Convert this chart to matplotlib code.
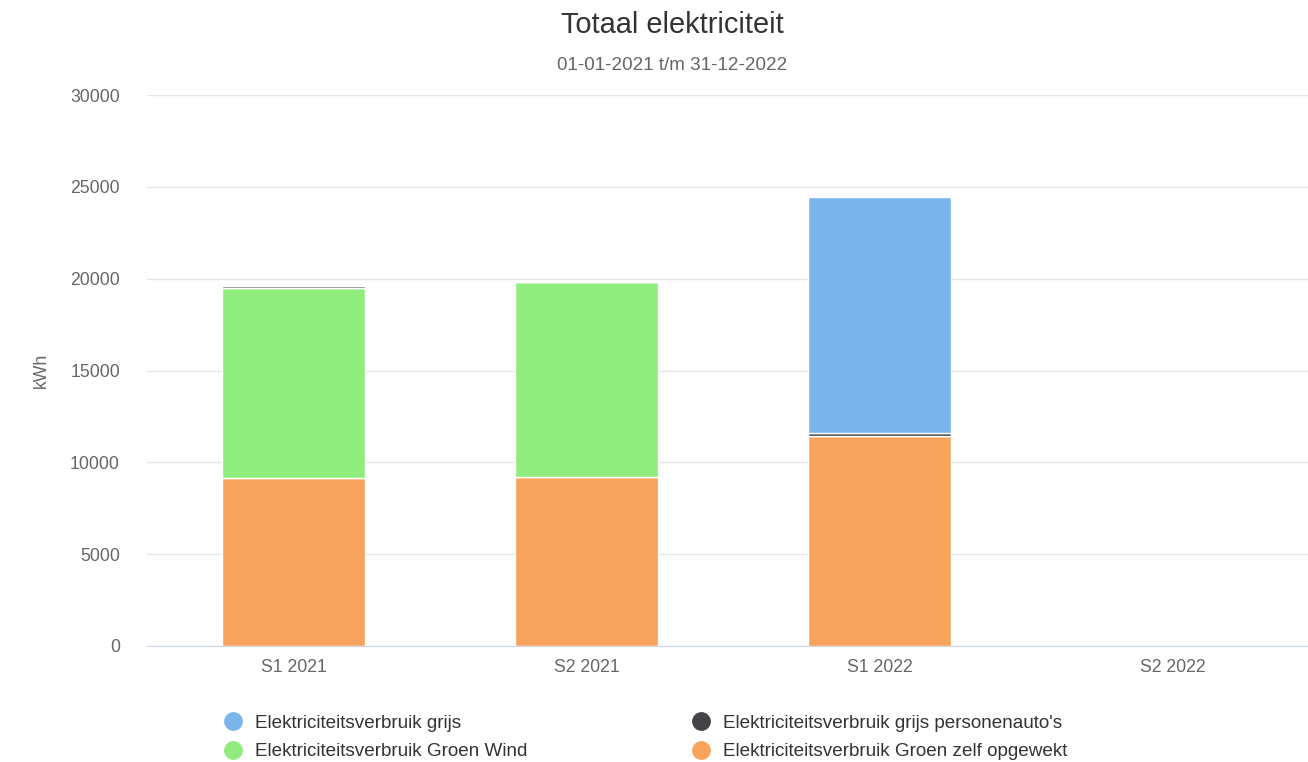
import matplotlib.pyplot as plt
from matplotlib.lines import Line2D

plt.rcParams["font.family"] = ["Liberation Sans", "DejaVu Sans"]

# semesters on the x axis
categories = ["S1 2021", "S2 2021", "S1 2022", "S2 2022"]

# kWh per series
grijs = [0, 0, 12830, 0]
grijs_auto = [140, 0, 180, 0]
groen_wind = [10340, 10580, 0, 0]
groen_zelf = [9130, 9220, 11430, 0]

series_names = [
    "Elektriciteitsverbruik grijs",
    "Elektriciteitsverbruik grijs personenauto's",
    "Elektriciteitsverbruik Groen Wind",
    "Elektriciteitsverbruik Groen zelf opgewekt",
]
colours = ["#7cb5ec", "#434348", "#90ed7d", "#f7a35c"]

fig = plt.figure(figsize=(13.08, 7.62), dpi=100)
# plot area runs a bit past the right edge of the image
ax = fig.add_axes([147 / 1308, 116 / 762, 1172 / 1308, 551 / 762])

x = list(range(len(categories)))
# highcharts stacks the last series at the bottom
stack = [groen_zelf, groen_wind, grijs_auto, grijs]
stack_colours = [colours[3], colours[2], colours[1], colours[0]]
bottom = [0] * len(categories)
for vals, col in zip(stack, stack_colours):
    ax.bar(x, vals, width=0.49, bottom=bottom, color=col,
           edgecolor="white", linewidth=1, zorder=3)
    bottom = [b + v for b, v in zip(bottom, vals)]

ax.set_xlim(-0.5, len(categories) - 0.5)
ax.set_ylim(0, 30000)
ax.set_yticks(range(0, 30001, 5000))
ax.set_xticks(x)
ax.set_xticklabels(categories)
ax.tick_params(axis="y", length=0, pad=19.5, labelsize=12.7, labelcolor="#666666")
ax.tick_params(axis="x", length=0, pad=9, labelsize=12.7, labelcolor="#666666")
ax.grid(axis="y", color="#e6e6e6", linewidth=1, zorder=0)
for s in ["top", "right", "left"]:
    ax.spines[s].set_visible(False)
ax.spines["bottom"].set_color("#ccd6eb")
ax.spines["bottom"].set_zorder(4)

ax.set_ylabel("kWh", fontsize=12.7, color="#666666")
ax.yaxis.set_label_coords((50 - 147) / 1172, 0.5)

fig.text(672 / 1308, 1 - 25 / 762, "Totaal elektriciteit", ha="center",
         va="center", fontsize=20.9, color="#333333")
fig.text(672 / 1308, 1 - 65 / 762, "01-01-2021 t/m 31-12-2022", ha="center",
         va="center", fontsize=13.6, color="#666666")

handles = [Line2D([], [], linestyle="none", marker="o", markersize=12.5,
                  markerfacecolor=c, markeredgecolor=c) for c in colours]
order = [0, 2, 1, 3]
fig.legend([handles[i] for i in order], [series_names[i] for i in order],
           ncol=2, loc="center left",
           bbox_to_anchor=(223.6 / 1308, 1 - 737.5 / 762),
           borderpad=0, borderaxespad=0,
           frameon=False, fontsize=13.6, handletextpad=0.67, columnspacing=8.7,
           labelspacing=0.6, handlelength=1.0, labelcolor="#333333")

fig.savefig("out.png", dpi=100)
